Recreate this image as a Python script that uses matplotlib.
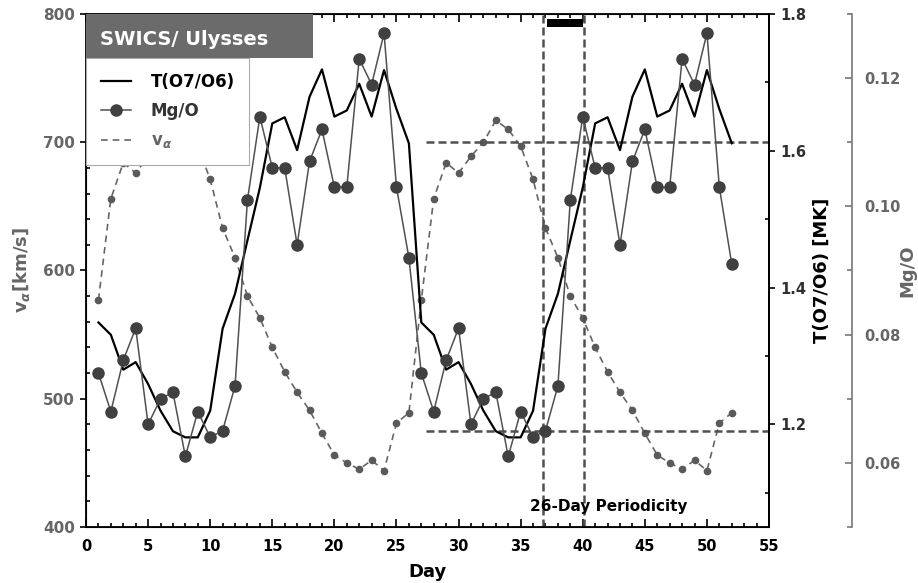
import matplotlib
matplotlib.use('Agg')
import matplotlib.pyplot as plt
from matplotlib.lines import Line2D
from matplotlib.patches import Rectangle
from matplotlib.ticker import MultipleLocator, FormatStrFormatter

# values (two solar rotations, 26 days each)
days = list(range(1, 53))

v_alpha = [577, 656, 684, 676, 689, 700, 717, 710, 697, 671, 633, 610, 580,
           563, 540, 521, 505, 491, 473, 456, 450, 445, 452, 444, 481, 489,
           577, 656, 684, 676, 689, 700, 717, 710, 697, 671, 633, 610, 580,
           563, 540, 521, 505, 491, 473, 456, 450, 445, 452, 444, 481, 489]

t_o7o6 = [1.349, 1.331, 1.280, 1.291, 1.259, 1.220, 1.190, 1.181, 1.181,
          1.220, 1.340, 1.391, 1.469, 1.546, 1.640, 1.649, 1.601, 1.679,
          1.719, 1.650, 1.659, 1.698, 1.650, 1.718, 1.661, 1.611,
          1.349, 1.331, 1.280, 1.291, 1.259, 1.220, 1.190, 1.181, 1.181,
          1.220, 1.340, 1.391, 1.469, 1.546, 1.640, 1.649, 1.601, 1.679,
          1.719, 1.650, 1.659, 1.698, 1.650, 1.718, 1.661, 1.611]

mg_o = [0.074, 0.068, 0.076, 0.081, 0.066, 0.070, 0.071, 0.061, 0.068,
        0.064, 0.065, 0.072, 0.101, 0.114, 0.106, 0.106, 0.094, 0.107,
        0.112, 0.103, 0.103, 0.123, 0.119, 0.127, 0.103, 0.092,
        0.074, 0.068, 0.076, 0.081, 0.066, 0.070, 0.071, 0.061, 0.068,
        0.064, 0.065, 0.072, 0.101, 0.114, 0.106, 0.106, 0.094, 0.107,
        0.112, 0.103, 0.103, 0.123, 0.119, 0.127, 0.103, 0.091]

# guide lines / periodicity marker
level_v = [700, 475]
level_start = 27.4
period_days = [36.8, 40.1]
bar_days = [37.1, 40.0]
bar_v = (790, 796)

GREY = '#666666'
DARK = '#404040'

plt.rcParams['font.family'] = 'DejaVu Sans'
plt.rcParams['font.weight'] = 'bold'

fig = plt.figure(figsize=(9.18, 5.83), dpi=100)
ax = fig.add_axes([0.0937, 0.0961, 0.7440, 0.8799])
ax2 = ax.twinx()
ax3 = ax.twinx()
ax3.spines['right'].set_position(('axes', 1.1215))

# v_alpha on the left axis
ax.plot(days, v_alpha, ls=(0, (4, 3)), lw=1.2, color=GREY,
        marker='o', ms=4.5, mfc='#5a5a5a', mec='#5a5a5a')
ax.hlines(level_v, level_start, 55, colors='#505050', lw=1.8,
          linestyles=(0, (3.2, 1.6)))
for d in period_days:
    ax.axvline(d, color='#505050', lw=1.8, ls=(0, (3.2, 1.6)))
ax.fill_between(bar_days, bar_v[0], bar_v[1], color='black', lw=0)
ax.text(42.1, 416, '26-Day Periodicity', ha='center', va='center',
        fontsize=11, fontweight='bold')

# temperature and Mg/O
ax2.plot(days, t_o7o6, color='black', lw=1.6)
ax3.plot(days, mg_o, color='#505050', lw=1.1, marker='o', ms=8,
         mfc=DARK, mec=DARK)

# left axis
ax.set_xlim(0, 55)
ax.set_ylim(400, 800)
ax.xaxis.set_major_locator(MultipleLocator(5))
ax.xaxis.set_minor_locator(MultipleLocator(1))
ax.yaxis.set_major_locator(MultipleLocator(100))
ax.yaxis.set_minor_locator(MultipleLocator(20))
ax.tick_params(axis='x', which='both', direction='in', top=True, width=1.2)
ax.tick_params(axis='x', which='major', length=6, labelsize=10.5, pad=9)
ax.tick_params(axis='x', which='minor', length=3)
ax.tick_params(axis='y', which='major', direction='out', length=4, width=1.2,
               labelsize=11, labelcolor=GREY, pad=4)
ax.tick_params(axis='y', which='minor', direction='in', length=3, width=1.2)
for s in ax.spines.values():
    s.set_linewidth(1.3)

ax.set_xlabel('Day', fontsize=13, fontweight='bold', va='center')
ax.xaxis.set_label_coords(0.5, -0.088)
ax.set_ylabel(r'v$_{\alpha}$[km/s]', fontsize=13, fontweight='bold',
              color=GREY, va='center')
ax.yaxis.set_label_coords(-0.094, 0.5)

# T(O7/O6) axis
ax2.set_ylim(1.05, 1.8)
ax2.yaxis.set_major_locator(MultipleLocator(0.2))
ax2.yaxis.set_minor_locator(MultipleLocator(0.1))
ax2.yaxis.set_major_formatter(FormatStrFormatter('%.1f'))
ax2.tick_params(axis='y', which='major', direction='out', length=4, width=1.2,
                labelsize=10.5, labelcolor='#303030', pad=4)
ax2.tick_params(axis='y', which='minor', direction='in', length=3, width=1.2)
ax2.spines['right'].set_linewidth(1.3)
ax2.set_ylabel('T(O7/O6) [MK]', fontsize=13, fontweight='bold', va='center')
ax2.yaxis.set_label_coords(1.0776, 0.5)

# Mg/O axis
ax3.set_ylim(0.05, 0.13)
ax3.yaxis.set_major_locator(MultipleLocator(0.02))
ax3.yaxis.set_minor_locator(MultipleLocator(0.01))
ax3.yaxis.set_major_formatter(FormatStrFormatter('%.2f'))
ax3.tick_params(axis='y', which='major', direction='in', length=5, width=1.2,
                color='#777777', labelsize=10.5, labelcolor=GREY, pad=8.6)
ax3.tick_params(axis='y', which='minor', direction='in', length=3.5,
                width=1.2, color='#777777')
for side in ['left', 'top', 'bottom']:
    ax3.spines[side].set_visible(False)
ax3.spines['right'].set_color('#777777')
ax3.spines['right'].set_linewidth(1.2)
ax3.set_ylabel('Mg/O', fontsize=13, fontweight='bold', color=GREY,
               va='center')
ax3.yaxis.set_label_coords(1.202, 0.5)

# header box + legend
ax3.add_patch(Rectangle((0, 0.914), 0.332, 0.086, transform=ax3.transAxes,
                        facecolor='#6b6b6b', edgecolor='none', zorder=6,
                        clip_on=False))
ax3.text(0.0205, 0.951, 'SWICS/ Ulysses', transform=ax3.transAxes,
         ha='left', va='center', color='white', fontsize=14,
         fontweight='bold', zorder=7)

handles = [Line2D([], [], color='black', lw=1.6),
           Line2D([], [], color='#505050', lw=1.1, marker='o', ms=8,
                  mfc=DARK, mec=DARK),
           Line2D([], [], color=GREY, lw=1.2, ls=(0, (4, 3)))]
leg = ax3.legend(handles, ['T(O7/O6)', 'Mg/O', r'v$_{\alpha}$'],
                 loc='upper left', bbox_to_anchor=(0, 0.914),
                 borderaxespad=0, fancybox=False, framealpha=1,
                 edgecolor='#aaaaaa', prop={'size': 12, 'weight': 'bold'},
                 handlelength=1.8, handletextpad=1.2, labelspacing=0.68,
                 borderpad=0.88)
leg.get_frame().set_linewidth(0.8)
txts = leg.get_texts()
txts[1].set_color('#333333')
txts[2].set_color(GREY)

fig.savefig('out.png', dpi=100)
